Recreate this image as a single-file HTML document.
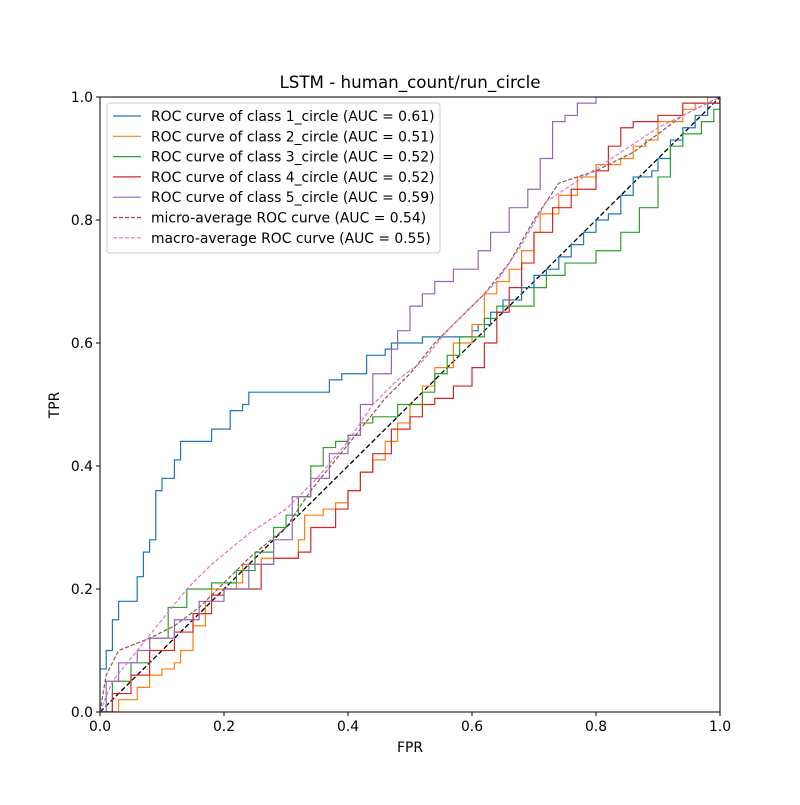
<!DOCTYPE html>
<html><head><meta charset="utf-8"><style>
body{margin:0;background:#fff}
svg text{font-family:"DejaVu Sans","Liberation Sans",sans-serif;fill:#000}
</style></head><body>
<svg id="chart" width="800" height="800" xmlns="http://www.w3.org/2000/svg">
<rect width="800" height="800" fill="#fff"/>
<text x="410" y="88" font-size="16.7" text-anchor="middle">LSTM - human_count/run_circle</text>
<g id="plot"></g>
<text x="410" y="752" font-size="13.9" text-anchor="middle">FPR</text>
<text x="59" y="405" font-size="13.9" text-anchor="middle" transform="rotate(-90 59 405)">TPR</text>
</svg>
<script>
const xTicks=[0,0.2,0.4,0.6,0.8,1.0];
const yTicks=[0,0.2,0.4,0.6,0.8,1.0];
const tickLabels=["0.0","0.2","0.4","0.6","0.8","1.0"];
const seriesNames=["ROC curve of class 1_circle (AUC = 0.61)","ROC curve of class 2_circle (AUC = 0.51)","ROC curve of class 3_circle (AUC = 0.52)","ROC curve of class 4_circle (AUC = 0.52)","ROC curve of class 5_circle (AUC = 0.59)","micro-average ROC curve (AUC = 0.54)","macro-average ROC curve (AUC = 0.55)"];
const colors=["#1f77b4","#ff7f0e","#2ca02c","#d62728","#9467bd","#8c564b","#e377c2"];
const class1=[[0,0],[0,0.07],[0.01,0.1],[0.02,0.15],[0.03,0.18],[0.05,0.18],[0.06,0.22],[0.07,0.26],[0.08,0.28],[0.09,0.33],[0.09,0.36],[0.1,0.38],[0.12,0.38],[0.12,0.41],[0.13,0.44],[0.18,0.44],[0.18,0.46],[0.21,0.46],[0.21,0.49],[0.23,0.5],[0.24,0.52],[0.36,0.52],[0.37,0.54],[0.39,0.55],[0.43,0.55],[0.43,0.58],[0.46,0.59],[0.47,0.6],[0.52,0.6],[0.52,0.61],[0.56,0.61],[0.6,0.62],[0.61,0.63],[0.63,0.65],[0.65,0.67],[0.68,0.67],[0.68,0.69],[0.7,0.69],[0.7,0.71],[0.72,0.72],[0.74,0.74],[0.76,0.76],[0.78,0.78],[0.8,0.8],[0.82,0.81],[0.84,0.84],[0.86,0.87],[0.89,0.88],[0.9,0.9],[0.92,0.93],[0.94,0.95],[0.96,0.97],[0.98,0.99],[1,1]];
const class2=[[0,0],[0.02,0],[0.03,0.02],[0.06,0.04],[0.08,0.06],[0.1,0.07],[0.12,0.08],[0.13,0.1],[0.15,0.14],[0.17,0.18],[0.18,0.2],[0.22,0.21],[0.23,0.24],[0.26,0.25],[0.3,0.25],[0.32,0.28],[0.33,0.32],[0.36,0.33],[0.38,0.34],[0.4,0.36],[0.42,0.39],[0.44,0.41],[0.46,0.44],[0.48,0.47],[0.5,0.5],[0.52,0.53],[0.54,0.56],[0.57,0.6],[0.6,0.63],[0.62,0.68],[0.64,0.7],[0.66,0.72],[0.68,0.75],[0.7,0.78],[0.71,0.81],[0.74,0.84],[0.77,0.87],[0.8,0.89],[0.84,0.9],[0.86,0.92],[0.88,0.93],[0.9,0.96],[0.94,0.98],[0.96,0.99],[0.98,1],[1,1]];
const class3=[[0,0],[0.02,0],[0.02,0.05],[0.05,0.08],[0.08,0.12],[0.11,0.17],[0.14,0.2],[0.18,0.21],[0.2,0.21],[0.22,0.23],[0.25,0.26],[0.28,0.3],[0.3,0.32],[0.32,0.35],[0.34,0.4],[0.36,0.43],[0.38,0.44],[0.4,0.45],[0.42,0.47],[0.44,0.48],[0.48,0.5],[0.52,0.52],[0.54,0.55],[0.56,0.58],[0.58,0.61],[0.62,0.64],[0.64,0.66],[0.7,0.69],[0.72,0.71],[0.75,0.73],[0.8,0.75],[0.84,0.78],[0.87,0.82],[0.9,0.87],[0.92,0.92],[0.94,0.94],[0.97,0.96],[0.99,0.98],[1,1]];
const class4=[[0,0],[0.02,0.03],[0.05,0.06],[0.08,0.1],[0.12,0.13],[0.15,0.16],[0.18,0.19],[0.2,0.2],[0.25,0.2],[0.26,0.24],[0.28,0.25],[0.32,0.26],[0.34,0.3],[0.38,0.33],[0.4,0.36],[0.42,0.39],[0.44,0.42],[0.47,0.46],[0.5,0.48],[0.52,0.5],[0.54,0.51],[0.57,0.53],[0.6,0.56],[0.62,0.6],[0.64,0.65],[0.66,0.69],[0.68,0.73],[0.7,0.78],[0.73,0.82],[0.76,0.85],[0.8,0.88],[0.82,0.92],[0.84,0.95],[0.86,0.96],[0.9,0.97],[0.94,0.99],[1,1]];
const class5=[[0,0],[0.01,0.05],[0.03,0.08],[0.06,0.1],[0.08,0.12],[0.12,0.15],[0.16,0.18],[0.2,0.2],[0.24,0.24],[0.28,0.28],[0.31,0.35],[0.34,0.38],[0.37,0.42],[0.4,0.45],[0.42,0.5],[0.44,0.55],[0.47,0.59],[0.48,0.62],[0.5,0.66],[0.52,0.68],[0.54,0.7],[0.57,0.72],[0.61,0.75],[0.63,0.78],[0.66,0.82],[0.69,0.85],[0.71,0.9],[0.73,0.96],[0.75,0.97],[0.77,0.99],[0.8,1],[1,1]];
const microAvg=[[0,0],[0.01,0.06],[0.03,0.1],[0.08,0.12],[0.12,0.14],[0.16,0.17],[0.2,0.21],[0.24,0.25],[0.3,0.3],[0.34,0.36],[0.38,0.41],[0.42,0.46],[0.46,0.51],[0.5,0.55],[0.54,0.6],[0.58,0.64],[0.62,0.68],[0.66,0.73],[0.7,0.8],[0.74,0.86],[0.8,0.88],[0.86,0.91],[0.9,0.94],[0.94,0.97],[1,1]];
const macroAvg=[[0,0],[0.02,0.05],[0.06,0.1],[0.1,0.15],[0.14,0.2],[0.18,0.24],[0.24,0.29],[0.3,0.33],[0.35,0.38],[0.4,0.44],[0.44,0.5],[0.48,0.54],[0.52,0.57],[0.56,0.62],[0.6,0.66],[0.64,0.7],[0.68,0.76],[0.72,0.83],[0.78,0.87],[0.84,0.91],[0.9,0.95],[0.96,0.98],[1,1]];
const allSeries=[class1,class2,class3,class4,class5,microAvg,macroAvg];
const X0=100,X1=720,Y0=712,Y1=97;
const sx=v=>X0+v*(X1-X0), sy=v=>Y0-v*(Y0-Y1);
const NS="http://www.w3.org/2000/svg";
const g=document.getElementById('plot');
function mk(t,a){const e=document.createElementNS(NS,t);for(const k in a)e.setAttribute(k,a[k]);g.appendChild(e);return e;}
const clip=document.createElementNS(NS,'clipPath');clip.id='pc';const cr=document.createElementNS(NS,'rect');
cr.setAttribute('x',X0);cr.setAttribute('y',Y1);cr.setAttribute('width',X1-X0);cr.setAttribute('height',Y0-Y1);clip.appendChild(cr);g.appendChild(clip);
const chance=mk('line',{x1:sx(0),y1:sy(0),x2:sx(1),y2:sy(1),stroke:'#000','stroke-width':1.3,'stroke-dasharray':'5,2.5'});


allSeries.forEach((s,i)=>{
  let d='';
  if(i<5){s.forEach((p,j)=>{if(j===0)d+='M'+sx(p[0])+','+sy(p[1]);else{d+='H'+sx(p[0])+'V'+sy(p[1]);}});}
  else d=s.map((p,j)=>(j?'L':'M')+sx(p[0])+','+sy(p[1])).join('');
  const a={d:d,fill:'none',stroke:colors[i],'stroke-width':1.2,'clip-path':'url(#pc)'};
  if(i>=5)a['stroke-dasharray']='4,2';
  const e=mk('path',a);
  
  
});
const fr=mk('rect',{x:X0,y:Y1,width:X1-X0,height:Y0-Y1,fill:'none',stroke:'#000','stroke-width':1});


xTicks.forEach((v,i)=>{
  mk('line',{x1:sx(v),x2:sx(v),y1:Y0,y2:Y0+4,stroke:'#000'});
  const t=mk('text',{x:sx(v),y:Y0+19,'font-size':13.9,'text-anchor':'middle'});t.textContent=tickLabels[i];
  
  
});
yTicks.forEach((v,i)=>{
  mk('line',{x1:X0-4,x2:X0,y1:sy(v),y2:sy(v),stroke:'#000'});
  const t=mk('text',{x:X0-7,y:sy(v)+5,'font-size':13.9,'text-anchor':'end'});t.textContent=tickLabels[i];
  
  
});
const lg=mk('rect',{x:107,y:103,width:333,height:150,rx:3,fill:'#fff','fill-opacity':0.8,stroke:'#ccc'});


seriesNames.forEach((n,i)=>{
  const y=116+i*20.3;
  const a={x1:113,x2:141,y1:y,y2:y,stroke:colors[i],'stroke-width':1.2};
  if(i>=5)a['stroke-dasharray']='4,2';
  mk('line',a);
  const t=mk('text',{x:151,y:y+5,'font-size':13.9});t.textContent=n;
  
  
});
</script>
</body></html>
